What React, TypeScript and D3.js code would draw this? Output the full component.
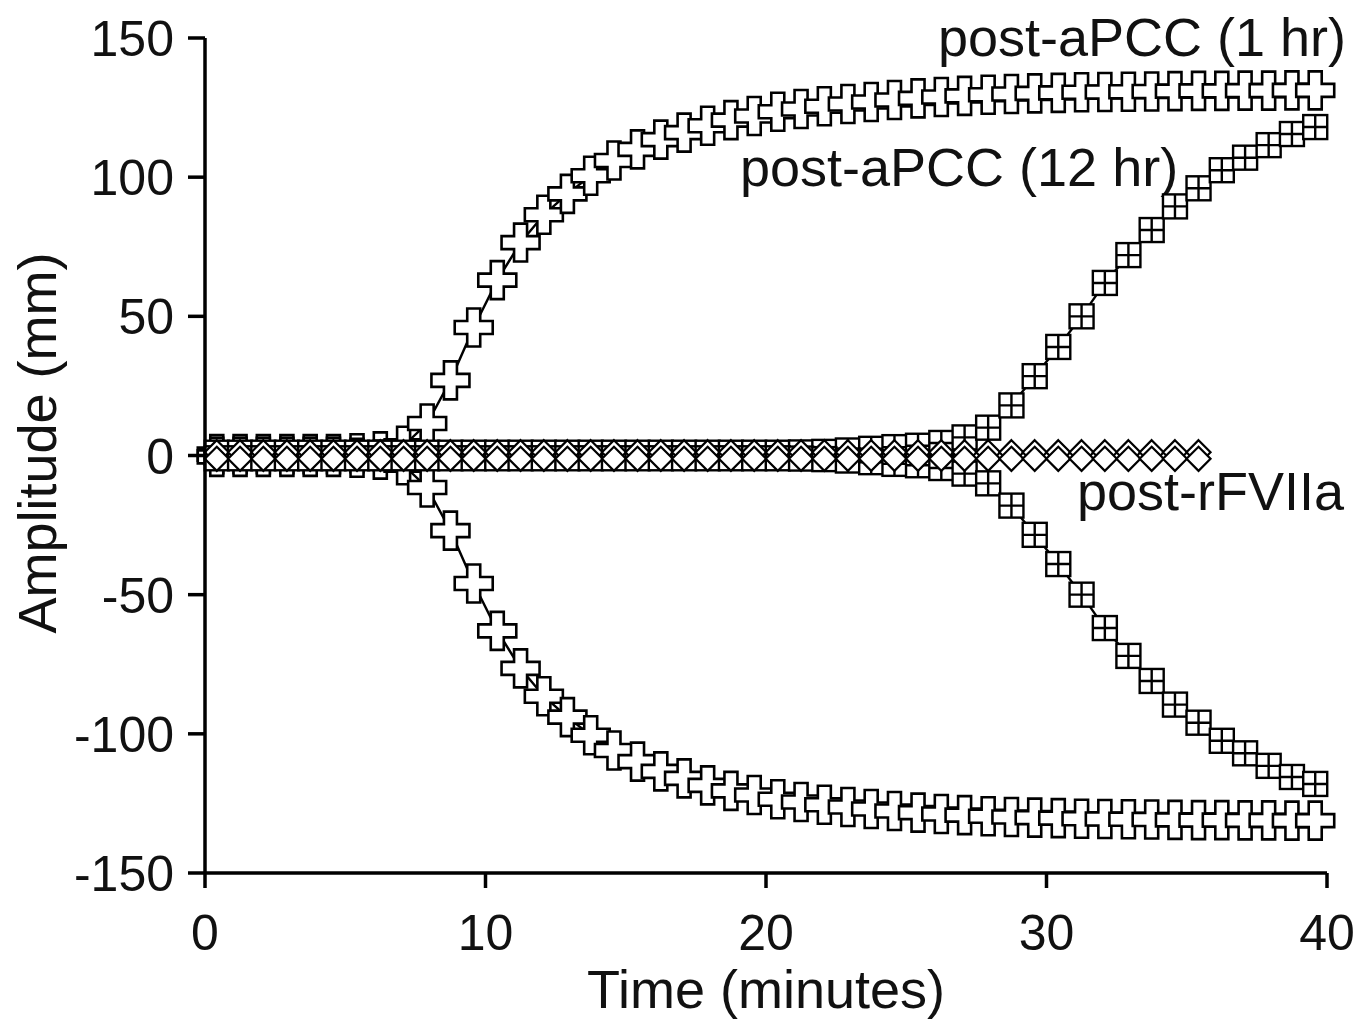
import React from "react";
import { scaleLinear, line } from "d3";

// sampling times (minutes), one trace point every 50 s
const timeMin = [
  0.42, 1.25, 2.08, 2.92, 3.75, 4.58, 5.42, 6.25, 7.08, 7.92, 8.75, 9.58,
  10.42, 11.25, 12.08, 12.92, 13.75, 14.58, 15.42, 16.25, 17.08, 17.92, 18.75,
  19.58, 20.42, 21.25, 22.08, 22.92, 23.75, 24.58, 25.42, 26.25, 27.08, 27.92,
  28.75, 29.58, 30.42, 31.25, 32.08, 32.92, 33.75, 34.58, 35.42, 36.25, 37.08,
  37.92, 38.75, 39.58,
];

// TEG amplitude (mm), drawn mirrored as +/- traces
const aPcc1hAmp = [
  0.5, 0.5, 0.5, 0.5, 0.5, 0.5, 0.8, 1.5, 3.5, 11.5, 27, 46, 63, 76.5, 86.5, 94,
  100.5, 106, 110, 113.5, 116, 118.5, 120.5, 122, 123.5, 124.5, 125.5, 126.3,
  127, 127.7, 128.3, 128.8, 129.2, 129.6, 129.9, 130.1, 130.3, 130.5, 130.6,
  130.7, 130.8, 130.9, 131, 131, 131.1, 131.1, 131.2, 131.2,
];

const aPcc12hAmp = [
  1, 1, 1, 1, 1, 1, 1, 1, 1, 1, 1, 1, 1, 1, 1, 1, 1, 1, 1, 1, 1, 1, 1, 1, 1,
  1.1, 1.3, 1.8, 2.4, 3, 3.5, 4.5, 6.5, 10, 18, 28.5, 39, 50, 62, 72, 81, 89.5,
  96, 102.5, 107, 111.5, 115.5, 118,
];

const rFVIIaAmp = [
  1.2, 1.2, 1.2, 1.2, 1.2, 1.2, 1.2, 1.2, 1.2, 1.2, 1.2, 1.2, 1.2, 1.2, 1.2,
  1.2, 1.2, 1.2, 1.2, 1.2, 1.2, 1.2, 1.2, 1.2, 1.2, 1.2, 1.2, 1.2, 1.2, 1.2,
  1.2, 1.2, 1.2, 1.2, 1.2, 1.2, 1.2, 1.2, 1.2, 1.2, 1.2, 1.2, 1.2,
];

const xTicks = [0, 10, 20, 30, 40];
const yTicks = [150, 100, 50, 0, -50, -100, -150];

const FONT = "Liberation Sans, Arial, Helvetica, sans-serif";

const crossPath = (s: number, a: number) =>
  `M${-a},${-s}H${a}V${-a}H${s}V${a}H${a}V${s}H${-a}V${a}H${-s}V${-a}H${-a}Z`;

function Marker({ kind }: { kind: string }) {
  if (kind === "cross")
    return <path d={crossPath(19, 6.5)} fill="#fff" stroke="#000" strokeWidth={2.6} />;
  if (kind === "square")
    return (
      <g fill="#fff" stroke="#000" strokeWidth={2.4}>
        <rect x={-12} y={-12} width={24} height={24} />
        <path d="M-12,0H12M0,-12V12" fill="none" />
      </g>
    );
  return <path d="M0,-12L12,0L0,12L-12,0Z" fill="#fff" stroke="#000" strokeWidth={2.2} />;
}

export default function App() {
  const x = scaleLinear().domain([0, 40]).range([205, 1327]);
  const y = scaleLinear().domain([-150, 150]).range([873, 38]);

  const series = [
    { name: "1hr", amp: aPcc1hAmp, kind: "cross" },
    { name: "12hr", amp: aPcc12hAmp, kind: "square" },
    { name: "rFVIIa", amp: rFVIIaAmp, kind: "diamond" },
  ];

  const lineGen = line<[number, number]>()
    .x((d) => x(d[0]))
    .y((d) => y(d[1]));

  return (
    <div style={{ position: "absolute", left: 0, top: 0 }}>
      <svg width={1371} height={1021} style={{ display: "block", background: "#fff" }}>
        {/* annotations */}
        <g fontFamily={FONT} fontSize={54} fill="#111">
          <text x={1346} y={56} textAnchor="end">post-aPCC (1 hr)</text>
          <text x={740} y={186}>post-aPCC (12 hr)</text>
          <text x={1077} y={510}>post-rFVIIa</text>
        </g>

        {series.map((s) => {
          const up = s.amp.map((v, i) => [timeMin[i], v] as [number, number]);
          const down = s.amp.map((v, i) => [timeMin[i], -v] as [number, number]);
          return (
            <g key={s.name}>
              <path d={lineGen(up) || ""} fill="none" stroke="#000" strokeWidth={2.4} />
              <path d={lineGen(down) || ""} fill="none" stroke="#000" strokeWidth={2.4} />
              {up.concat(down).map((d, i) => (
                <g key={i} transform={`translate(${x(d[0])},${y(d[1])})`}>
                  <Marker kind={s.kind} />
                </g>
              ))}
            </g>
          );
        })}

        {/* axes */}
        <g stroke="#000" strokeWidth={3.5} fill="none">
          <line x1={x(0)} x2={x(0)} y1={y(150)} y2={y(-150)} />
          <line x1={x(0)} x2={x(40)} y1={y(-150)} y2={y(-150)} />
          {yTicks.map((t) => (
            <line key={t} x1={x(0) - 17} x2={x(0)} y1={y(t)} y2={y(t)} />
          ))}
          {xTicks.map((t) => (
            <line key={t} x1={x(t)} x2={x(t)} y1={y(-150)} y2={y(-150) + 15} />
          ))}
        </g>
        <g fontFamily={FONT} fontSize={50} fill="#111">
          {yTicks.map((t) => (
            <text key={t} x={174} y={y(t) + 18} textAnchor="end">
              {t}
            </text>
          ))}
          {xTicks.map((t) => (
            <text key={t} x={x(t)} y={950} textAnchor="middle">
              {t}
            </text>
          ))}
        </g>
        <g fontFamily={FONT} fontSize={54} fill="#111">
          <text x={766} y={1008} textAnchor="middle">Time (minutes)</text>
          <text transform="translate(56,443) rotate(-90)" textAnchor="middle">
            Amplitude (mm)
          </text>
        </g>
      </svg>
    </div>
  );
}
